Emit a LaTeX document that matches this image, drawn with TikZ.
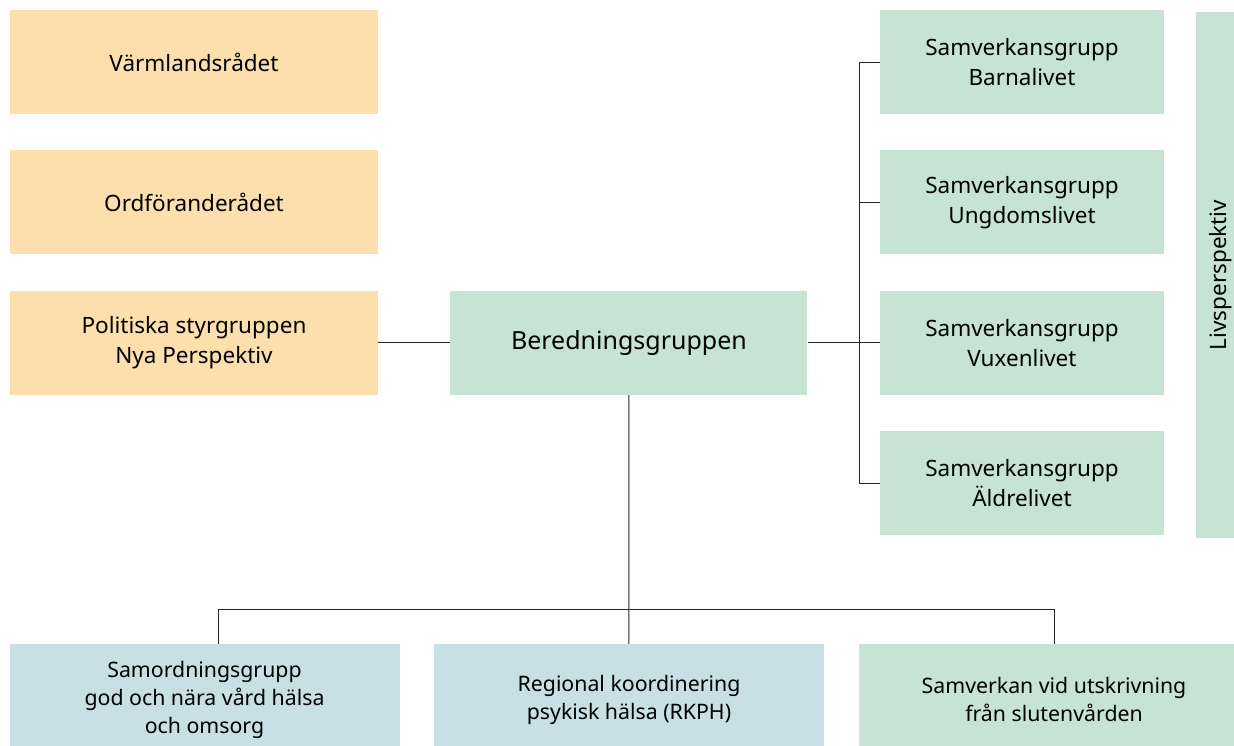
\documentclass[tikz,border=0pt]{standalone}
\usepackage{fontspec}
\setmainfont{Noto Sans}
\usetikzlibrary{positioning}

\definecolor{peach}{HTML}{FDDFAD}
\definecolor{mint}{HTML}{C6E3D3}
\definecolor{ice}{HTML}{C7DFE5}

\tikzset{
	box/.style={inner sep=0pt, align=center, font=\fontsize{22.5}{30}\selectfont, minimum height=104pt},
	peachbox/.style={box, fill=peach, minimum width=368pt},
	mintbox/.style={box, fill=mint, minimum width=284pt},
	lowbox/.style={box, minimum width=390pt, minimum height=111pt, font=\fontsize{21.3}{28}\selectfont},
	link/.style={draw=black!85, line width=1pt}
}

\begin{document}
\begin{tikzpicture}[x=1pt, y=-1pt]
		\useasboundingbox (0,0) rectangle (1234,745);
		% Define boxes
		\node[peachbox] (v) at (194,62) {Värmlandsrådet};
		\node[peachbox, below=36pt of v] (o) {Ordföranderådet};
		\node[peachbox, below=36pt of o] (p) {Politiska styrgruppen\\Nya Perspektiv};
		\node[mintbox, right=72pt of p, minimum width=357pt, font=\fontsize{25}{30}\selectfont] (b) {Beredningsgruppen};
		\node[mintbox] (s1) at (1022,62) {Samverkansgrupp\\Barnalivet};
		\node[mintbox, below=36pt of s1] (s2) {Samverkansgrupp\\Ungdomslivet};
		\node[mintbox, below=36pt of s2] (s3) {Samverkansgrupp\\Vuxenlivet};
		\node[mintbox, below=36pt of s3] (s4) {Samverkansgrupp\\Äldrelivet};
		\node[box, fill=mint, rotate=90, minimum width=526pt, minimum height=50pt] (l) at (1221,275) {Livsperspektiv};
		\node[lowbox, fill=ice] (q1) at (204.5,699.5) {Samordningsgrupp\\god och nära vård hälsa\\och omsorg};
		\node[lowbox, fill=ice] (q2) at (629,699.5) {Regional koordinering\\psykisk hälsa (RKPH)};
		\node[lowbox, fill=mint] (q3) at (1054,699.5) {Samverkan vid utskrivning\\från slutenvården};
		\coordinate (k) at ([xshift=52pt]b.east);
		\coordinate (jl) at (218,609);
		\coordinate (jr) at (q3.north |- jl);
		
		% Draw links
		\draw[link] (p) -- (b);
		\draw[link] (b) -- (k);
		\draw[link] (s1.west) -- (s1.west -| k) -- (s4.west -| k) -- (s4.west);
		\draw[link] (s2.west) -- (s2.west -| k);
		\draw[link] (s3.west -| k) -- (s3.west);
		\draw[link] (b) -- (q2);
		\draw[link] (jl |- q1.north) -- (jl) -- (jr) -- (q3.north);
\end{tikzpicture}
\end{document}
